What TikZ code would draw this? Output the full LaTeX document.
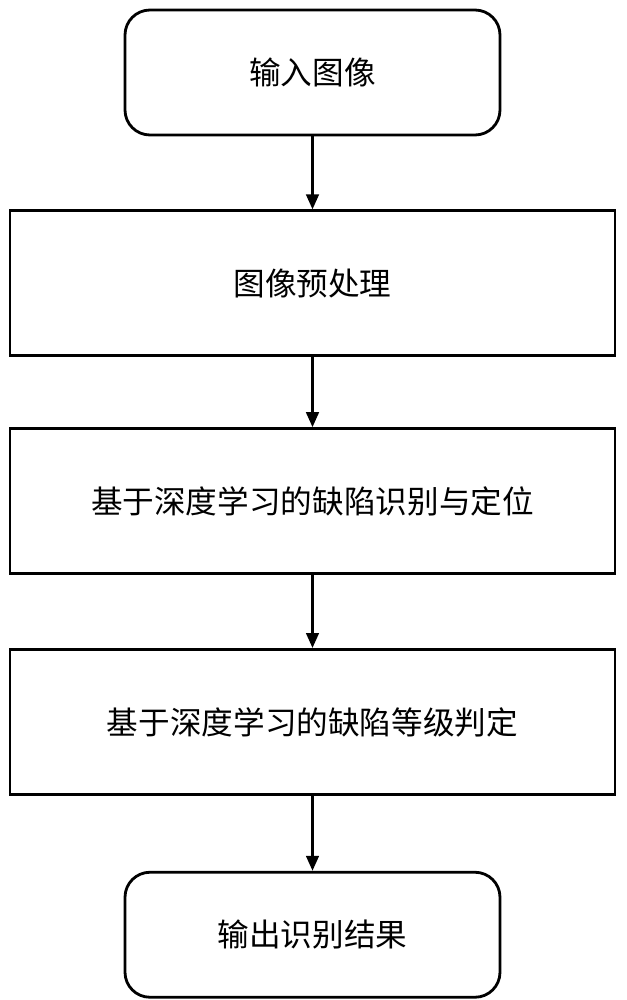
\documentclass[tikz,border=0pt]{standalone}
\usepackage{fontspec}
\newfontfamily\cjk{Noto Sans CJK SC}
\usetikzlibrary{arrows.meta, positioning}
\tikzset{
    terminal/.style={
        rectangle,
        draw=black,
        line width=1.6pt,
        rounded corners=0.5cm,
        minimum width=7.5cm,
        minimum height=2.5cm,
        fill=white,
        font=\cjk\fontsize{18}{20}\selectfont
    },
    process/.style={
        rectangle,
        draw=black,
        line width=1.6pt,
        minimum width=12.1cm,
        minimum height=2.9cm,
        fill=white,
        font=\cjk\fontsize{18}{20}\selectfont
    },
    flow/.style={
        draw=black,
        line width=1.6pt,
        -{Triangle[length=0.3cm,width=0.25cm]}
    }
}
\begin{document}
\begin{tikzpicture}
\useasboundingbox (0,0) rectangle (12.54,-20);

\node[terminal] (inp) at (6.25,-1.45) {输入图像};
\node[process, below=1.46cm of inp] (pre) {图像预处理};
\node[process, below=1.4cm of pre] (loc) {基于深度学习的缺陷识别与定位};
\node[process, below=1.46cm of loc] (lvl) {基于深度学习的缺陷等级判定};
\node[terminal, below=1.5cm of lvl] (out) {输出识别结果};

\draw[flow] (inp) -- (pre);
\draw[flow] (pre) -- (loc);
\draw[flow] (loc) -- (lvl);
\draw[flow] (lvl) -- (out);

\end{tikzpicture}
\end{document}
